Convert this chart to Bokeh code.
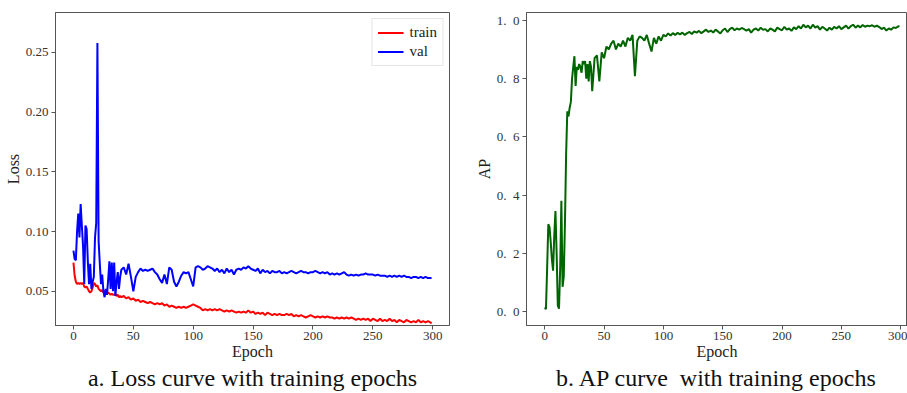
from bokeh.plotting import figure
from bokeh.layouts import row
from bokeh.models import (Range1d, Title, Legend, LegendItem, FixedTicker,
                          CustomJSTickFormatter)
from bokeh.embed import file_html
from bokeh.resources import INLINE

# ---------------- data ----------------
epochs = list(range(0, 41)) + list(range(42, 299, 2)) + [299]

train_loss = [
    0.074, 0.063, 0.058, 0.056, 0.057, 0.056, 0.057, 0.056, 0.057, 0.054,
    0.053, 0.054, 0.052, 0.050, 0.049, 0.050, 0.053, 0.057, 0.056, 0.054,
    0.055, 0.052, 0.051, 0.050, 0.051, 0.049, 0.050, 0.049, 0.048, 0.049,
    0.048, 0.047, 0.048, 0.047, 0.047, 0.048, 0.046, 0.047, 0.045, 0.046,
    0.045,
    0.046, 0.044, 0.045, 0.043, 0.044, 0.042, 0.043, 0.041, 0.042, 0.041,
    0.040, 0.041, 0.040, 0.039, 0.040, 0.039, 0.040, 0.038, 0.039, 0.037,
    0.038, 0.037, 0.036, 0.037, 0.036, 0.037, 0.036, 0.037, 0.038, 0.039,
    0.038, 0.037, 0.036, 0.034, 0.035, 0.034, 0.035, 0.034, 0.035, 0.034,
    0.035, 0.034, 0.033, 0.034, 0.033, 0.034, 0.033, 0.032, 0.033, 0.032,
    0.033, 0.032, 0.034, 0.032, 0.033, 0.031, 0.032, 0.031, 0.032, 0.030,
    0.032, 0.031, 0.030, 0.031, 0.030, 0.031, 0.030, 0.030, 0.031, 0.030,
    0.031, 0.029, 0.030, 0.029, 0.030, 0.029, 0.028, 0.029, 0.030, 0.029,
    0.028, 0.029, 0.028, 0.029, 0.028, 0.029, 0.028, 0.028, 0.027, 0.028,
    0.027, 0.028, 0.027, 0.028, 0.027, 0.028, 0.027, 0.026, 0.027, 0.026,
    0.027, 0.026, 0.027, 0.025, 0.027, 0.026, 0.025, 0.027, 0.025, 0.026,
    0.025, 0.027, 0.025, 0.026, 0.024, 0.026, 0.025, 0.024, 0.026, 0.025,
    0.024, 0.025, 0.024, 0.026, 0.024, 0.025, 0.024, 0.025, 0.024,
    0.023,
]

val_loss = [
    0.084, 0.077, 0.076, 0.100, 0.115, 0.095, 0.123, 0.105, 0.088, 0.056,
    0.105, 0.102, 0.075, 0.056, 0.073, 0.052, 0.058, 0.062, 0.095, 0.107,
    0.258, 0.092, 0.073, 0.056, 0.064, 0.050, 0.045, 0.052, 0.047, 0.060,
    0.075, 0.052, 0.074, 0.050, 0.074, 0.046, 0.058, 0.066, 0.052, 0.062,
    0.068,
    0.070, 0.064, 0.073, 0.062, 0.050, 0.062, 0.066, 0.069, 0.067, 0.068,
    0.067, 0.068, 0.069, 0.066, 0.064, 0.060, 0.057, 0.064, 0.056, 0.070,
    0.068, 0.058, 0.054, 0.058, 0.063, 0.066, 0.065, 0.066, 0.060, 0.054,
    0.070, 0.071, 0.070, 0.068, 0.069, 0.071, 0.070, 0.069, 0.067, 0.069,
    0.066, 0.068, 0.065, 0.069, 0.066, 0.068, 0.064, 0.068, 0.069, 0.068,
    0.070, 0.069, 0.071, 0.069, 0.068, 0.067, 0.069, 0.065, 0.068, 0.066,
    0.067, 0.065, 0.067, 0.066, 0.066, 0.067, 0.065, 0.066, 0.065, 0.066,
    0.067, 0.066, 0.065, 0.066, 0.067, 0.066, 0.066, 0.065, 0.066, 0.066,
    0.067, 0.066, 0.065, 0.066, 0.065, 0.066, 0.064, 0.065, 0.064, 0.065,
    0.064, 0.065, 0.066, 0.064, 0.063, 0.064, 0.063, 0.064, 0.063, 0.064,
    0.064, 0.065, 0.064, 0.064, 0.064, 0.063, 0.064, 0.063, 0.063, 0.063,
    0.062, 0.063, 0.062, 0.063, 0.062, 0.063, 0.062, 0.063, 0.062, 0.062,
    0.061, 0.062, 0.062, 0.061, 0.062, 0.061, 0.062, 0.061, 0.061,
    0.061,
]

ap = [
    0.014, 0.008, 0.15, 0.30, 0.29, 0.24, 0.18, 0.14, 0.26, 0.345,
    0.20, 0.02, 0.01, 0.15, 0.38, 0.085, 0.12, 0.30, 0.54, 0.688,
    0.67, 0.70, 0.72, 0.80, 0.84, 0.877, 0.775, 0.84, 0.83, 0.85,
    0.84, 0.82, 0.86, 0.85, 0.86, 0.80, 0.85, 0.79, 0.86, 0.84,
    0.757,
    0.87, 0.88, 0.79, 0.89, 0.87, 0.91, 0.90, 0.92, 0.93, 0.90,
    0.92, 0.91, 0.93, 0.91, 0.94, 0.93, 0.95, 0.808, 0.93, 0.945,
    0.94, 0.93, 0.95, 0.92, 0.893, 0.94, 0.92, 0.945, 0.93, 0.95,
    0.945, 0.955, 0.948, 0.956, 0.95, 0.957, 0.952, 0.958, 0.950, 0.956,
    0.960, 0.953, 0.962, 0.958, 0.964, 0.956, 0.962, 0.968, 0.960, 0.965,
    0.958, 0.968, 0.962, 0.955, 0.966, 0.972, 0.960, 0.970, 0.975, 0.966,
    0.972, 0.968, 0.974, 0.970, 0.965, 0.970, 0.958, 0.968, 0.972, 0.965,
    0.975, 0.968, 0.970, 0.962, 0.972, 0.968, 0.962, 0.975, 0.970, 0.966,
    0.978, 0.968, 0.972, 0.964, 0.976, 0.970, 0.980, 0.972, 0.985, 0.976,
    0.982, 0.972, 0.985, 0.975, 0.980, 0.968, 0.978, 0.972, 0.965, 0.975,
    0.968, 0.978, 0.972, 0.980, 0.970, 0.976, 0.982, 0.972, 0.980, 0.985,
    0.975, 0.982, 0.976, 0.984, 0.978, 0.982, 0.980, 0.983, 0.978, 0.982,
    0.977, 0.970, 0.975, 0.965, 0.972, 0.968, 0.976, 0.974, 0.980,
    0.978,
]

x_ticks = [0, 50, 100, 150, 200, 250, 300]
loss_ticks = [0.05, 0.10, 0.15, 0.20, 0.25]
ap_ticks = [0.0, 0.2, 0.4, 0.6, 0.8, 1.0]

caption_a = "a. Loss curve with training epochs"
caption_b = "b. AP curve\u00a0 with training epochs"

SERIF = "Liberation Serif"
AX = "#555555"
TXT = "#333333"


def style(p):
    p.xgrid.grid_line_color = None
    p.ygrid.grid_line_color = None
    p.outline_line_color = AX
    p.outline_line_width = 1
    p.background_fill_color = "white"
    p.border_fill_color = "white"
    for ax in (p.xaxis[0], p.yaxis[0]):
        ax.axis_line_color = AX
        ax.major_tick_line_color = AX
        ax.minor_tick_line_color = None
        ax.major_tick_out = 4
        ax.major_tick_in = 0
        ax.major_label_text_font = SERIF
        ax.major_label_text_font_size = "13px"
        ax.major_label_text_color = TXT
        ax.axis_label_text_font = SERIF
        ax.axis_label_text_font_size = "16px"
        ax.axis_label_text_font_style = "normal"
        ax.axis_label_text_color = "#222222"
        ax.major_label_standoff = 3
        ax.axis_label_standoff = 1
    p.xaxis[0].major_label_standoff = 2
    p.xaxis[0].axis_label_standoff = 0


n = min(len(epochs), len(train_loss), len(val_loss))
m = min(len(epochs), len(ap))

# ---------------- left: loss ----------------
p1 = figure(width=460, height=393, output_backend="svg", toolbar_location=None,
            x_range=Range1d(-15, 314), y_range=Range1d(0.0213, 0.2835),
            min_border_left=55, min_border_right=11, min_border_top=12,
            min_border_bottom=68)
r_train = p1.line(epochs[:n], train_loss[:n], line_color="#ff0000", line_width=2)
r_val = p1.line(epochs[:n], val_loss[:n], line_color="#0000ff", line_width=2)
style(p1)
p1.xaxis.ticker = FixedTicker(ticks=x_ticks)
p1.yaxis.ticker = FixedTicker(ticks=loss_ticks)
p1.yaxis.formatter = CustomJSTickFormatter(code="return tick.toFixed(2);")
p1.xaxis.axis_label = "Epoch"
p1.yaxis.axis_label = "Loss"
legend = Legend(items=[LegendItem(label="train", renderers=[r_train]),
                       LegendItem(label="val", renderers=[r_val])],
                location="top_right")
legend.label_text_font = SERIF
legend.label_text_font_size = "15px"
legend.label_text_color = "#222222"
legend.glyph_width = 26
legend.glyph_height = 15
legend.label_height = 15
legend.label_standoff = 6
legend.spacing = 2
legend.padding = 5
legend.margin = 6
legend.border_line_color = "#cccccc"
legend.border_line_width = 1
p1.add_layout(legend)
p1.add_layout(Title(text=caption_a, align="center", text_font=SERIF,
                    text_font_size="24px", text_font_style="normal",
                    text_color="#111111", standoff=0), "below")

# ---------------- right: AP ----------------
p2 = figure(width=447, height=393, output_backend="svg", toolbar_location=None,
            x_range=Range1d(-15.4, 305.8), y_range=Range1d(-0.048, 1.027),
            min_border_left=66, min_border_right=0, min_border_top=12,
            min_border_bottom=68)
p2.line(epochs[:m], ap[:m], line_color="#006400", line_width=2)
style(p2)
p2.xaxis.ticker = FixedTicker(ticks=x_ticks)
p2.yaxis.ticker = FixedTicker(ticks=ap_ticks)
p2.yaxis.formatter = CustomJSTickFormatter(code="return tick.toFixed(1).replace('.', '.\\u2002');")
p2.xaxis.axis_label = "Epoch"
p2.yaxis.axis_label = "AP"
p2.add_layout(Title(text=caption_b, align="center", text_font=SERIF,
                    text_font_size="24px", text_font_style="normal",
                    text_color="#111111", standoff=0, offset=23), "below")

layout = row(p1, p2)
layout.spacing = 0
open("out.html", "w").write(file_html(layout, INLINE))
